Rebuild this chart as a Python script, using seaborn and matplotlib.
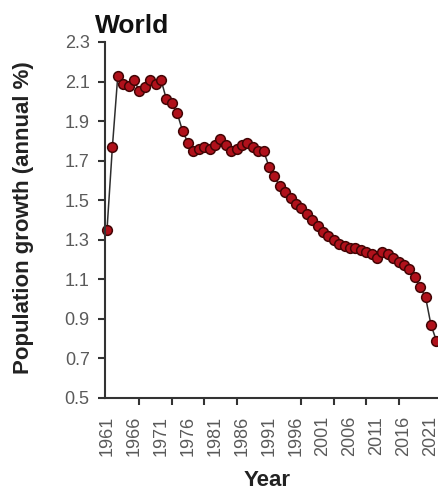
# World population growth (annual %), 1961-2022
import numpy as np
import pandas as pd
import seaborn as sns
import matplotlib.pyplot as plt
from matplotlib.ticker import FixedLocator

years = list(range(1961, 2023))
growth = [1.35, 1.77, 2.13, 2.09, 2.08, 2.11, 2.05, 2.07, 2.11, 2.09,
          2.11, 2.01, 1.99, 1.94, 1.85, 1.79, 1.75, 1.76, 1.77, 1.76,
          1.78, 1.81, 1.78, 1.75, 1.76, 1.78, 1.79, 1.77, 1.75, 1.75,
          1.67, 1.62, 1.57, 1.54, 1.51, 1.48, 1.46, 1.43, 1.40, 1.37,
          1.34, 1.32, 1.30, 1.28, 1.27, 1.26, 1.26, 1.25, 1.24, 1.23,
          1.21, 1.24, 1.23, 1.21, 1.19, 1.17, 1.15, 1.11, 1.06, 1.01,
          0.87, 0.79]
y_ticks = [0.5, 0.7, 0.9, 1.1, 1.3, 1.5, 1.7, 1.9, 2.1, 2.3]
label_years = years[::5]   # labels every 5 years
mark_years = years[::6]    # tick marks every 6 years (as in the original)

df = pd.DataFrame({"Year": years, "Growth": growth})

sns.set_style("ticks")
plt.rcParams["font.family"] = ["Liberation Sans", "DejaVu Sans"]

fig = plt.figure(figsize=(4.39, 4.95), dpi=100)
ax = fig.add_axes([105 / 439, 97 / 495, 340 / 439, 356 / 495])

sns.lineplot(data=df, x="Year", y="Growth", ax=ax, color="#2e2e2e", linewidth=1.1,
             marker="o", markersize=7, markerfacecolor="#b0111b",
             markeredgecolor="#420505", markeredgewidth=1.1, clip_on=False)

ax.set_xlim(1960.63, 2023.6)
ax.set_ylim(0.5, 2.3)
ax.set_yticks(y_ticks)
ax.set_yticklabels([f"{v:.1f}" for v in y_ticks])
ax.set_xticks(label_years)
ax.set_xticklabels([str(y) for y in label_years], rotation=90)
ax.xaxis.set_minor_locator(FixedLocator(mark_years))

ax.tick_params(axis="y", labelsize=13, labelcolor="#5a5a5a", length=5, width=1.5,
               color="#333333", pad=6)
ax.tick_params(axis="x", which="major", labelsize=13, labelcolor="#5a5a5a",
               length=0, pad=13)
ax.tick_params(axis="x", which="minor", length=5, width=1.5, color="#333333")

for side in ["top", "right"]:
    ax.spines[side].set_visible(False)
for side in ["left", "bottom"]:
    ax.spines[side].set_color("#333333")
    ax.spines[side].set_linewidth(1.5)

ax.set_xlabel("")
ax.set_ylabel("")
fig.text(95 / 439, 1 - 33 / 495, "World", fontsize=19, fontweight="bold",
         color="#111111", ha="left", va="baseline")
fig.text(24 / 439, 1 - 218 / 495, "Population growth (annual %)", fontsize=16,
         fontweight="bold", color="#222222", rotation=90, ha="center", va="center")
fig.text(267 / 439, 1 - 481 / 495, "Year", fontsize=16, fontweight="bold",
         color="#222222", ha="center", va="center")

fig.savefig("out.png", dpi=100)
